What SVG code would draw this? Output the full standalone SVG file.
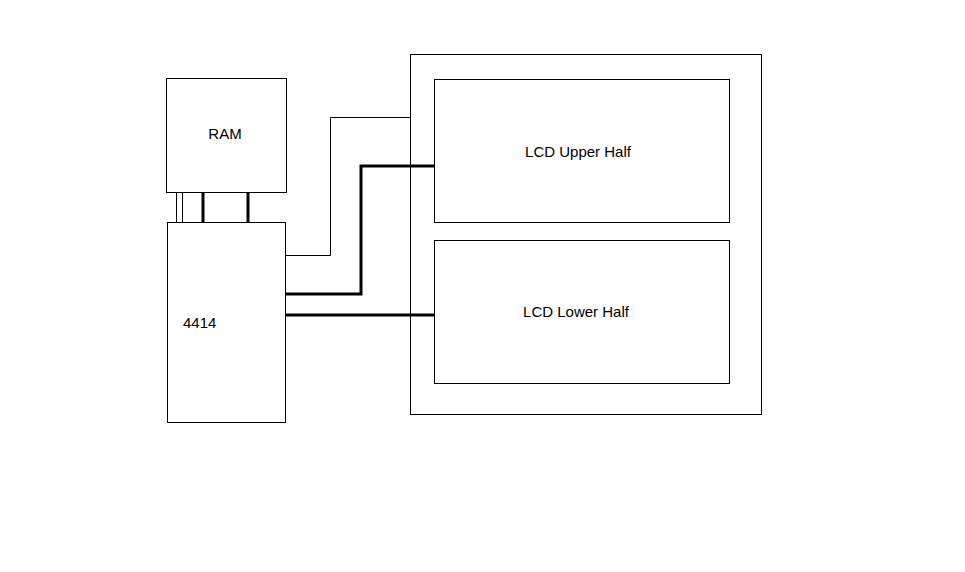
<svg xmlns="http://www.w3.org/2000/svg" width="965" height="572" viewBox="0 0 965 572">
<style>
rect{fill:#fff;stroke:#000;stroke-width:1}
.t{stroke:#000;stroke-width:1;fill:none}
.k{stroke:#000;stroke-width:3;fill:none}
text{font-family:"Liberation Sans",Arial,sans-serif;font-size:15px;fill:#000}
</style>
<rect x="0" y="0" width="965" height="572" style="stroke:none"/>
<g id="connectors">
<line class="t" x1="176.5" y1="193" x2="176.5" y2="222"/>
<line class="t" x1="182.5" y1="193" x2="182.5" y2="222"/>
<line class="k" x1="203" y1="193" x2="203" y2="222"/>
<line class="k" x1="248" y1="193" x2="248" y2="222"/>
<polyline class="t" points="285,255.5 330.5,255.5 330.5,117.5 410,117.5"/>
<polyline class="k" points="285,294 361,294 361,166 434,166"/>
<line class="k" x1="285" y1="315" x2="434" y2="315"/>
</g>
<g id="ram"><rect x="166.5" y="78.5" width="120" height="114"/><text x="225" y="139" text-anchor="middle">RAM</text></g>
<g id="chip4414"><rect x="167.5" y="222.5" width="118" height="200"/><text x="183" y="328">4414</text></g>
<g id="lcd"><rect x="410.5" y="54.5" width="351" height="360" style="fill:none"/></g>
<g id="upper"><rect x="434.5" y="79.5" width="295" height="143"/><text x="578" y="157" text-anchor="middle">LCD Upper Half</text></g>
<g id="lower"><rect x="434.5" y="240.5" width="295" height="143"/><text x="576" y="317" text-anchor="middle">LCD Lower Half</text></g>
</svg>
